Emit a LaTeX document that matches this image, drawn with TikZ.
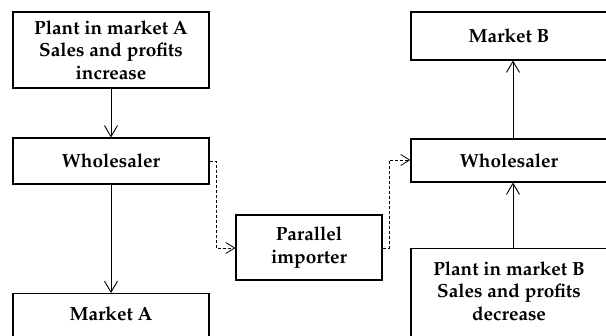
\documentclass[tikz,border=0pt]{standalone}
\usepackage[T1]{fontenc}
\renewcommand\rmdefault{ppl}
\usetikzlibrary{arrows.meta}
\begin{document}
\begin{tikzpicture}[x=1pt,y=1pt,
  box/.style={draw=black, line width=1.1pt, rectangle, minimum width=196pt, inner sep=0pt, align=center,
    font=\fontsize{19}{22.5}\selectfont\bfseries},
  lbl/.style={inner sep=0pt, align=center, font=\fontsize{19}{22.5}\selectfont\bfseries},
  arr/.style={line width=0.9pt, -{Straight Barb[length=11pt,width=13pt,line width=0.9pt]}},
  darr/.style={line width=0.8pt, dash pattern=on 3pt off 2pt, -{Straight Barb[length=9pt,width=11pt,line width=0.8pt]}}
]
\useasboundingbox (0,0) rectangle (606,-336);
\clip (0,0) rectangle (606,-336);
% left column
\node[box, minimum height=76pt] (pA) at (111,-50) {Plant in market A\\Sales and profits\\increase};
\node[box, minimum height=46pt] (wA) at (111,-161) {Wholesaler};
\node[box, minimum height=60pt, anchor=north] (mA) at (111,-293) {};
\node[lbl] (mAt) at (111,-314) {Market A};
% middle
\node[box, minimum width=146pt, minimum height=65pt] (pi) at (309,-247.5) {Parallel\\importer};
% right column
\node[box, minimum height=48pt] (mB) at (509,-36) {Market B};
\node[box, minimum height=43pt] (wB) at (509,-160.5) {Wholesaler};
\node[box, minimum height=100pt, anchor=north] (pB) at (509,-248) {};
\node[lbl] (pBt) at (509,-291) {Plant in market B\\Sales and profits\\decrease};
% connectors
\draw[arr] (pA.south) -- (wA.north);
\draw[arr] (wA.south) -- (mA.north);
\draw[arr] (wB.north -| 513,0) -- (mB.south -| 513,0);
\draw[arr] (pB.north -| 513,0) -- (wB.south -| 513,0);
\coordinate (d1) at (216,-161);
\coordinate (d2) at (216,-248);
\coordinate (d3) at (389,-248);
\coordinate (d4) at (389,-160);
\draw[darr] (wA.east |- d1) -- (d1) -- (d2) -- (pi.west |- d2);
\draw[darr] (pi.east |- d3) -- (d3) -- (d4) -- (wB.west |- d4);
\end{tikzpicture}
\end{document}
